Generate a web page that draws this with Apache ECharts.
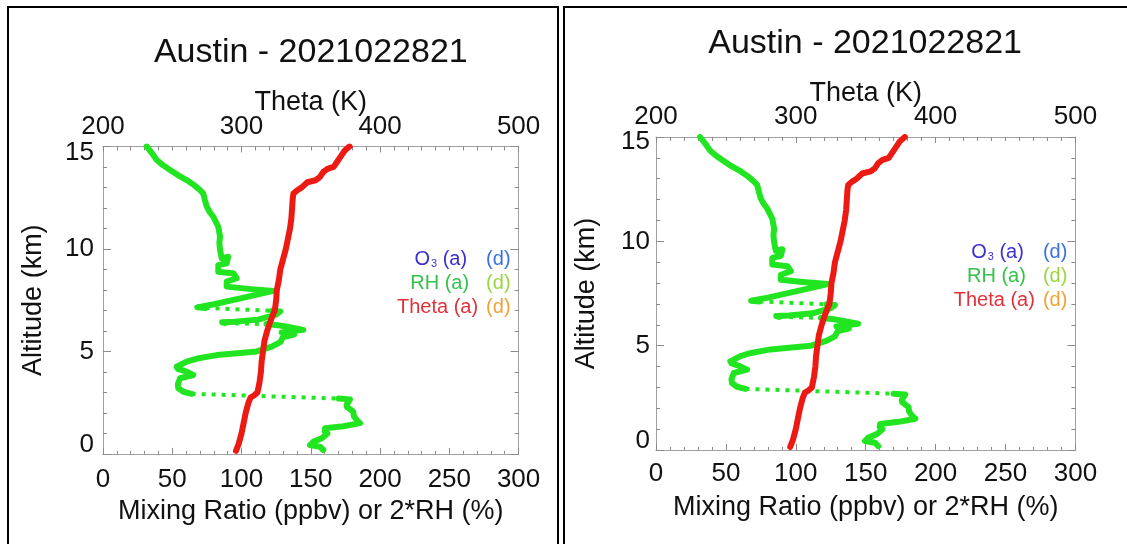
<!DOCTYPE html>
<html>
<head>
<meta charset="utf-8">
<script src="https://cdn.jsdelivr.net/npm/echarts@6/dist/echarts.min.js"></script>
<style>
  html, body { margin: 0; padding: 0; background: #fff; overflow: hidden; }
  .panel { position: absolute; border: 2px solid #000; background: #fff; }
</style>
</head>
<body>
<div id="p1" class="panel" style="left:7px;top:6px;width:548px;height:560px"></div>
<div id="p2" class="panel" style="left:563px;top:6px;width:600px;height:560px"></div>
<script>
// sounding: Austin 2021022821
const titleText = 'Austin - 2021022821';
const bottomTicks = [0, 50, 100, 150, 200, 250, 300];
const thetaTicks = [200, 300, 400, 500];
const altTicks = [0, 5, 10, 15];

// potential temperature (K) vs altitude (km)
const thetaAlt = [0.15, 0.5, 1.0, 1.5, 2.0, 2.5, 2.75, 2.85, 3.0, 3.5, 4.0, 4.5, 5.0, 5.5, 6.0, 6.5, 7.0, 7.5, 8.0, 8.5,
  9.0, 9.5, 10.0, 10.5, 11.0, 11.5, 12.0, 12.5, 12.7, 12.85, 13.0, 13.25, 13.35, 13.5, 13.75, 13.9, 14.0, 14.3, 14.55, 14.8, 15.0];
const thetaK = [296, 298, 300, 301.5, 303, 305, 306.5, 309, 311.5, 313, 314, 314.5, 315.5, 316.5, 318.5, 321, 324, 325, 325.5, 327,
  328, 330, 332, 333.5, 335, 336, 336.5, 337, 337.5, 340, 343.5, 347.5, 353.5, 356.5, 359, 362, 366.5, 369.5, 372, 374.5, 378];

// 2*RH (%) vs altitude (km), solid pieces top to bottom
const rhTop = [[31.5, 15.0], [35, 14.7], [38.8, 14.34], [43, 14.1], [48.4, 13.85], [54, 13.6], [60.4, 13.36], [66, 13.1],
  [70, 12.87], [72.4, 12.7], [73.5, 12.4], [74.9, 12.06], [77, 11.8], [79.6, 11.57], [83.2, 11.08], [84.5, 10.6],
  [84, 10.3], [84.5, 9.95], [85.7, 9.54], [90.4, 9.62], [89.3, 9.3], [83.2, 9.21], [83.2, 8.89], [88, 8.85],
  [94.1, 8.81], [96.5, 8.57], [89.3, 8.4], [89.3, 8.16], [105, 8.05], [123, 7.95], [100, 7.6], [80, 7.3],
  [68, 7.15], [74, 7.12]];
const rhMid1 = [[122, 6.98], [128, 6.95], [125, 6.8], [112, 6.55], [95, 6.45], [86, 6.42], [88, 6.38]];
const rhMid2 = [[118, 6.33], [126, 6.28], [133, 6.2], [144.6, 6.05], [129, 5.92], [138, 5.82], [130, 5.7], [128, 5.45],
  [121.8, 5.23], [110.9, 5.0], [95, 4.9], [82, 4.82], [68, 4.65], [60.4, 4.5], [53.2, 4.25], [54, 4.15],
  [60.4, 4.01], [65.2, 3.85], [55.6, 3.69], [54, 3.4], [54.4, 3.2], [58, 3.03], [64, 2.93]];
const rhLow = [[170, 2.7], [178.3, 2.66], [175.9, 2.4], [176, 2.3], [180.7, 2.06], [181, 1.85], [183.1, 1.65],
  [185.5, 1.5], [173.5, 1.35], [160.3, 1.25], [160, 1.1], [162, 1.0], [157.9, 0.76], [152, 0.6], [149.4, 0.43],
  [156.6, 0.35], [159, 0.19]];

const FONT = 'Liberation Sans';
const GREEN = '#22e522';
const RED = '#ec1a12';

function solid(data) {
  return { type: 'line', data: data, xAxisIndex: 0, yAxisIndex: 0, symbol: 'none', silent: true,
    lineStyle: { color: GREEN, width: 6, cap: 'round', join: 'round' } };
}
function dotted(a, b) {
  return { type: 'line', data: [a[a.length - 1], b[0]], xAxisIndex: 0, yAxisIndex: 0, symbol: 'none', silent: true,
    lineStyle: { color: GREEN, width: 4, type: [4, 6] } };
}

function legendText(x, y, text, color, align, rich) {
  return { type: 'text', x: x, y: y, silent: true,
    style: { text: text, fill: color, fontSize: 20, fontFamily: FONT, align: align, verticalAlign: 'middle', rich: rich } };
}

function panelOption(g) {
  const tick = { color: '#8a8a8a', width: 1 };
  const line = { show: true, onZero: false, lineStyle: { color: '#a0a0a0', width: 1 } };
  const nameStyle = { fontFamily: FONT, fontSize: 27, color: '#111' };
  const labelStyle = { fontFamily: FONT, fontSize: 26, color: '#111' };
  const right = g.left + g.width;
  const sub = { fill: '#3b30d0', fontSize: 11, fontFamily: FONT, verticalAlign: 'bottom', padding: [0, 0, 0, 1] };
  const big = { fill: '#3b30d0', fontSize: 20, fontFamily: FONT };
  return {
    animation: false,
    title: {
      text: titleText, left: g.left + g.width / 2, top: g.titleY, padding: 0,
      textAlign: 'center', textVerticalAlign: 'middle',
      textStyle: { fontFamily: FONT, fontSize: 34, fontWeight: 'normal', color: '#111' }
    },
    grid: { left: g.left, top: g.top, width: g.width, height: g.height },
    xAxis: [
      { type: 'value', position: 'bottom', min: bottomTicks[0], max: bottomTicks[bottomTicks.length - 1], interval: 50,
        name: 'Mixing Ratio (ppbv) or 2*RH (%)', nameLocation: 'middle', nameGap: g.botGap, nameTextStyle: nameStyle,
        nameMoveOverlap: false,
        axisLine: line, splitLine: { show: false },
        axisTick: { inside: true, length: 6, lineStyle: tick },
        minorTick: { show: true, splitNumber: 5, length: 3, lineStyle: tick },
        axisLabel: Object.assign({ margin: g.botMargin }, labelStyle) },
      { type: 'value', position: 'top', min: thetaTicks[0], max: thetaTicks[thetaTicks.length - 1], interval: 100,
        name: 'Theta (K)', nameLocation: 'middle', nameGap: g.topGap, nameTextStyle: nameStyle,
        nameMoveOverlap: false,
        axisLine: line, splitLine: { show: false },
        axisTick: { inside: true, length: 6, lineStyle: tick },
        minorTick: { show: true, splitNumber: 10, length: 4, lineStyle: tick },
        axisLabel: Object.assign({ margin: g.topMargin }, labelStyle) }
    ],
    yAxis: [
      { type: 'value', position: 'left', min: altTicks[0], max: altTicks[altTicks.length - 1], interval: 5,
        name: 'Altitude (km)', nameLocation: 'middle', nameGap: g.leftGap, nameTextStyle: nameStyle,
        nameMoveOverlap: false,
        axisLine: line, splitLine: { show: false },
        axisTick: { inside: true, length: 8, lineStyle: tick },
        minorTick: { show: true, splitNumber: 5, length: 4, lineStyle: tick },
        axisLabel: Object.assign({
          margin: g.leftMargin,
          formatter: function (v) { return v === 15 ? '{t|15}' : v === 0 ? '{b|0}' : String(v); },
          rich: {
            t: Object.assign({ padding: [g.yTopPad, 0, 0, 0] }, labelStyle),
            b: Object.assign({ padding: [0, 0, g.yBotPad, 0] }, labelStyle)
          }
        }, labelStyle) },
      { type: 'value', position: 'right', min: 0, max: 15, interval: 5,
        axisLine: line, splitLine: { show: false }, axisLabel: { show: false },
        axisTick: { inside: true, length: 8, lineStyle: tick },
        minorTick: { show: true, splitNumber: 5, length: 4, lineStyle: tick } }
    ],
    graphic: [
      legendText(right - 51.5, g.top + 0.369 * g.height, '{o|O}{s|3}{o| (a)}', '#3b30d0', 'right', { o: big, s: sub }),
      legendText(right - 32.5, g.top + 0.369 * g.height, '(d)', '#3a70e0', 'left'),
      legendText(right - 49.5, g.top + 0.445 * g.height, 'RH (a)', '#35c24a', 'right'),
      legendText(right - 32.5, g.top + 0.445 * g.height, '(d)', '#9ad63c', 'left'),
      legendText(right - 40.5, g.top + 0.523 * g.height, 'Theta (a)', '#e2303a', 'right'),
      legendText(right - 32.5, g.top + 0.523 * g.height, '(d)', '#f0a233', 'left')
    ],
    series: [
      solid(rhTop), dotted(rhTop, rhMid1), solid(rhMid1), dotted(rhMid1, rhMid2), solid(rhMid2),
      dotted(rhMid2, rhLow), solid(rhLow),
      { type: 'line', xAxisIndex: 1, yAxisIndex: 0, symbol: 'none', silent: true,
        data: thetaAlt.map(function (a, i) { return [thetaK[i], a]; }),
        lineStyle: { color: RED, width: 6, cap: 'round', join: 'round' } }
    ]
  };
}

const left = echarts.init(document.getElementById('p1'));
left.setOption(panelOption({
  left: 94, top: 138.4, width: 415.6, height: 307.5, titleY: 45,
  topGap: 30, botGap: 44, leftGap: 55.5, topMargin: 7, botMargin: 13, leftMargin: 9,
  yTopPad: 12, yBotPad: 18
}));

const right = echarts.init(document.getElementById('p2'));
right.setOption(panelOption({
  left: 89.8, top: 129, width: 420.6, height: 313, titleY: 36,
  topGap: 29.5, botGap: 44.5, leftGap: 56, topMargin: 7.5, botMargin: 11, leftMargin: 6,
  yTopPad: 10, yBotPad: 18
}));
</script>
</body>
</html>
